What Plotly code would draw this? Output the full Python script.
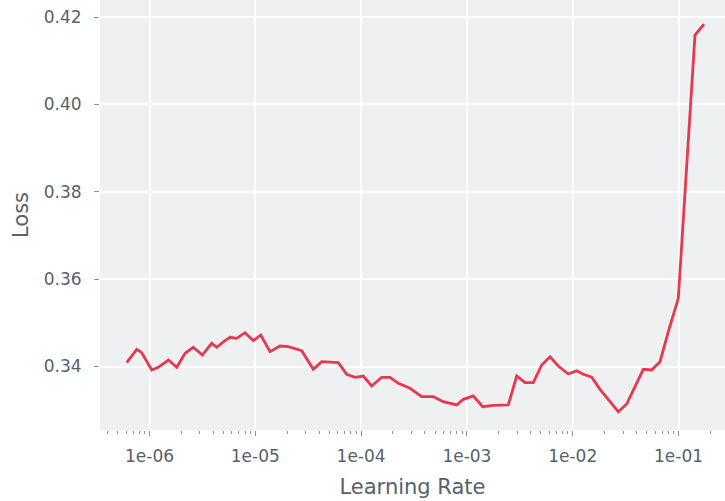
import plotly.graph_objects as go

# Learning-rate range test: loss recorded at each learning rate
learning_rate = [
    6.09e-7, 7.57e-7, 8.44e-7, 1.05e-6, 1.21e-6, 1.51e-6, 1.81e-6, 2.17e-6,
    2.59e-6, 3.16e-6, 3.87e-6, 4.32e-6, 5.17e-6, 5.77e-6, 6.67e-6, 7.99e-6,
    9.57e-6, 1.125e-5, 1.377e-5, 1.712e-5, 2.050e-5, 2.745e-5, 3.533e-5,
    4.242e-5, 6.088e-5, 7.309e-5, 8.757e-5, 1.049e-4, 1.259e-4, 1.565e-4,
    1.876e-4, 2.247e-4, 2.899e-4, 3.740e-4, 4.813e-4, 5.983e-4, 8.009e-4,
    9.247e-4, 1.149e-3, 1.410e-3, 1.776e-3, 2.462e-3, 2.956e-3, 3.541e-3,
    4.242e-3, 5.093e-3, 6.100e-3, 7.309e-3, 9.088e-3, 1.091e-2, 1.259e-2,
    1.512e-2, 1.811e-2, 2.252e-2, 2.698e-2, 3.238e-2, 4.648e-2, 5.580e-2,
    6.686e-2, 8.185e-2, 9.96e-2, 0.1432, 0.1742,
]
loss = [
    0.34087, 0.34394, 0.34316, 0.33920, 0.33982, 0.34149, 0.33982, 0.34302,
    0.34440, 0.34263, 0.34531, 0.34440, 0.34591, 0.34669, 0.34646, 0.34774,
    0.34591, 0.34721, 0.34339, 0.34469, 0.34453, 0.34362, 0.33936,
    0.34110, 0.34087, 0.33821, 0.33753, 0.33782, 0.33554, 0.33753,
    0.33753, 0.33615, 0.33501, 0.33309, 0.33309, 0.33194, 0.33119,
    0.33249, 0.33325, 0.33080, 0.33112, 0.33119, 0.33782, 0.33629,
    0.33629, 0.34034, 0.34224, 0.34011, 0.33828, 0.33904, 0.33821,
    0.33753, 0.33478, 0.33194, 0.32965, 0.33141, 0.33936, 0.33920,
    0.34110, 0.34875, 0.35561, 0.41590, 0.41842,
]

x_tick_values = [1e-6, 1e-5, 1e-4, 1e-3, 1e-2, 1e-1]
x_tick_labels = ["1e-06", "1e-05", "1e-04", "1e-03", "1e-02", "1e-01"]
y_tick_values = [0.34, 0.36, 0.38, 0.40, 0.42]
y_tick_labels = ["0.34", "0.36", "0.38", "0.40", "0.42"]

text_color = "#56626a"
tick_color = "#8a9296"

fig = go.Figure(
    go.Scatter(
        x=learning_rate,
        y=loss,
        mode="lines",
        line=dict(color="#E8384F", width=2.8),
        hoverinfo="skip",
    )
)

fig.update_layout(
    width=725,
    height=501,
    margin=dict(l=100, r=0, t=0, b=71),
    paper_bgcolor="white",
    plot_bgcolor="#EEF0F1",
    showlegend=False,
    font=dict(family="DejaVu Sans", color=text_color, size=17),
)

fig.update_xaxes(
    type="log",
    range=[-6.468, -0.5605],
    tickvals=x_tick_values,
    ticktext=x_tick_labels,
    ticks="outside",
    ticklen=5,
    tickwidth=1.2,
    tickcolor=tick_color,
    ticklabelstandoff=6,
    tickfont=dict(size=17, color=text_color),
    showgrid=True,
    gridcolor="white",
    gridwidth=1.6,
    zeroline=False,
    showline=False,
    minor=dict(ticks="outside", ticklen=3, tickwidth=1, tickcolor=tick_color,
               dtick="D1", showgrid=False),
    title=dict(text="Learning Rate", font=dict(size=21, color=text_color),
               standoff=13),
)

fig.update_yaxes(
    range=[0.32546, 0.42392],
    tickvals=y_tick_values,
    ticktext=y_tick_labels,
    ticks="outside",
    ticklen=5,
    tickwidth=1.2,
    tickcolor=tick_color,
    ticklabelstandoff=9,
    tickfont=dict(size=17, color=text_color),
    showgrid=True,
    gridcolor="white",
    gridwidth=1.6,
    zeroline=False,
    showline=False,
    title=dict(text="Loss", font=dict(size=21, color=text_color), standoff=9),
)

fig.write_html("out.html")
